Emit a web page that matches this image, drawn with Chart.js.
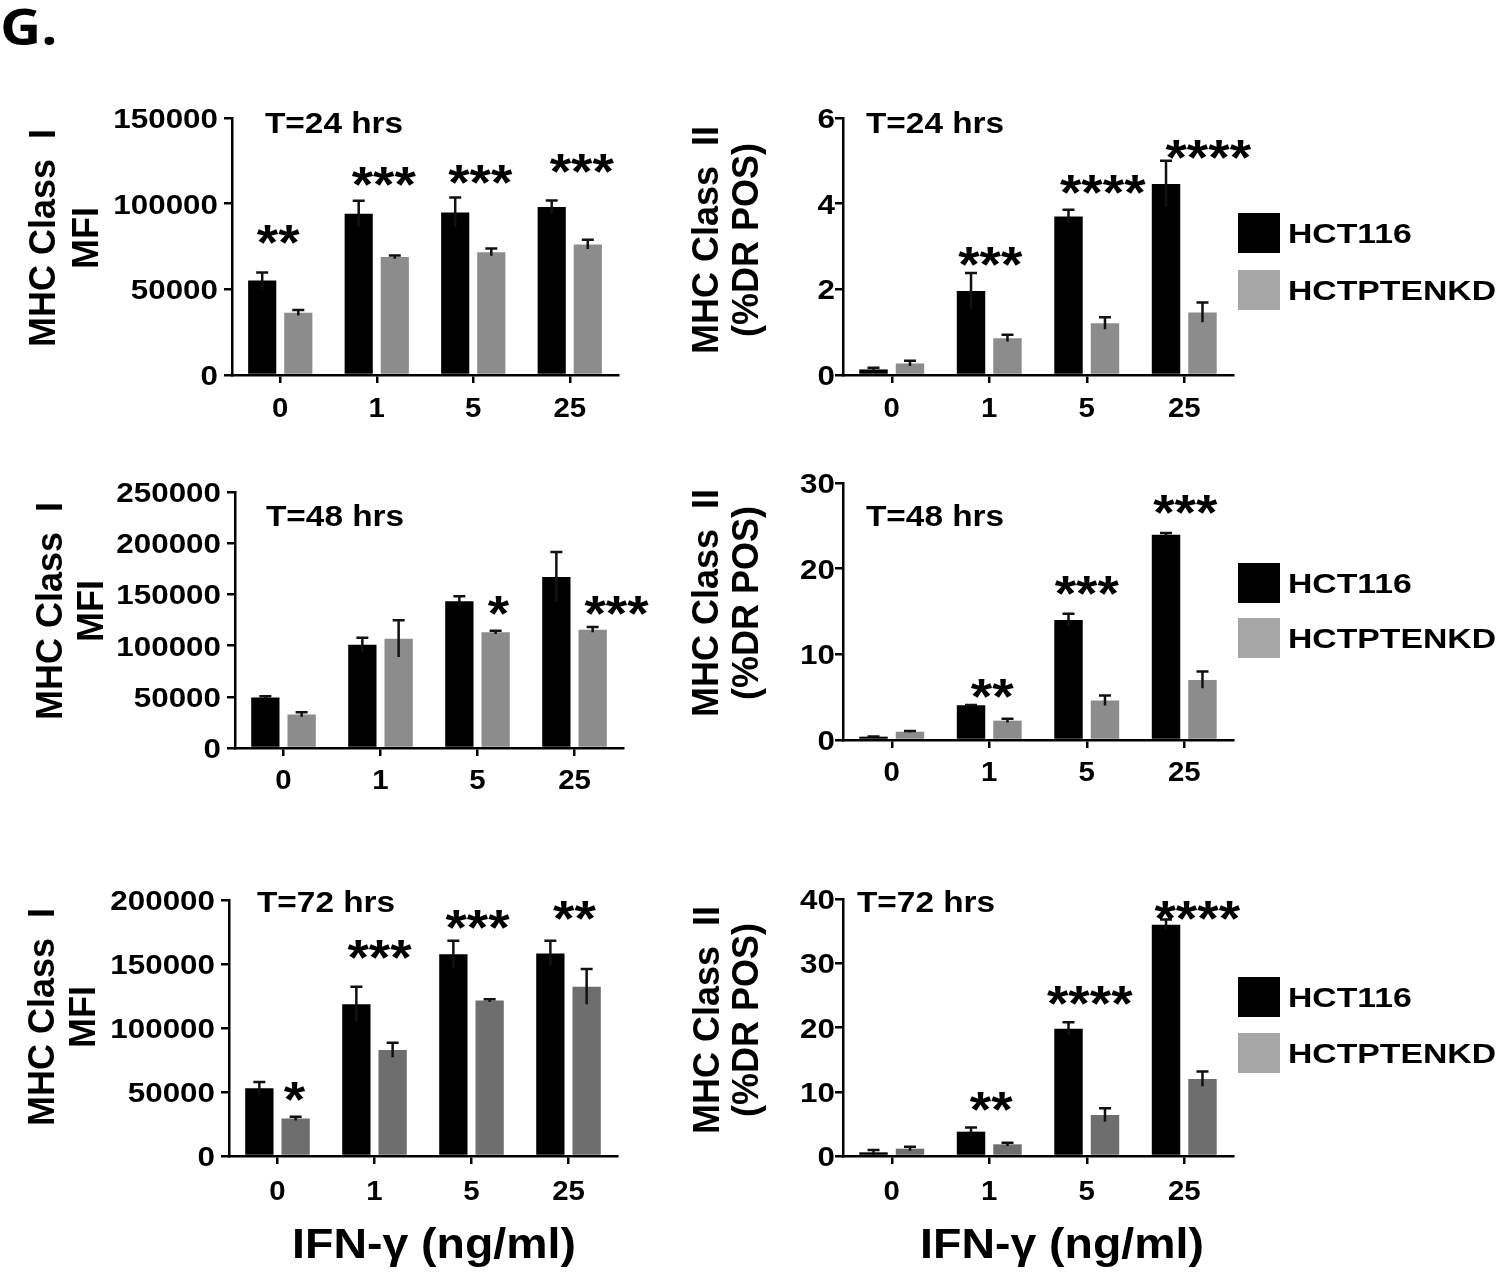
<!DOCTYPE html>
<html>
<head>
<meta charset="utf-8">
<title>MHC Class I / II vs IFN-γ</title>
<script src="https://cdn.jsdelivr.net/npm/chart.js"></script>
<style>
  body { margin: 0; background: #fff; }
  #wrap { position: relative; width: 1500px; height: 1272px; overflow: hidden; }
  canvas { position: absolute; }
  #tag { position: absolute; left: 0; top: 1px; font: bold 50px "Open Sans", sans-serif; line-height: 50px;
         transform: scaleX(1.14); transform-origin: left top; }
</style>
</head>
<body>
<div id="wrap">
  <div id="tag">G.</div>
  <canvas id="c1"></canvas>
  <canvas id="c2"></canvas>
  <canvas id="c3"></canvas>
  <canvas id="c4"></canvas>
  <canvas id="c5"></canvas>
  <canvas id="c6"></canvas>
</div>
<script>
// ---- data ----
const doses = ['0', '1', '5', '25'];
const seriesNames = ['HCT116', 'HCTPTENKD'];

// T=24 hrs
const mfi24Ticks = [0, 50000, 100000, 150000];
const mfi24Hct = [55100, 94100, 94900, 98000];
const mfi24HctSem = [4700, 7600, 8700, 3900];
const mfi24Kd = [36400, 68800, 71700, 76200];
const mfi24KdSem = [1600, 900, 2100, 2700];
const mfi24Stars = ['**', '***', '***', '***'];
const mfi24StarAt = [83000, 117000, 118000, 124500];

const dr24Ticks = [0, 2, 4, 6];
const dr24Hct = [0.13, 1.96, 3.70, 4.46];
const dr24HctSem = [0.04, 0.42, 0.16, 0.54];
const dr24Kd = [0.27, 0.86, 1.21, 1.46];
const dr24KdSem = [0.06, 0.08, 0.14, 0.23];
const dr24Stars = ['', '***', '****', '****'];
const dr24StarAt = [null, 2.81, 4.50, 5.32];

// T=48 hrs
const mfi48Ticks = [0, 50000, 100000, 150000, 200000, 250000];
const mfi48Hct = [49200, 100900, 143200, 167000];
const mfi48HctSem = [1300, 6800, 4900, 24400];
const mfi48Kd = [32600, 106800, 113000, 115600];
const mfi48KdSem = [2200, 17900, 1600, 2600];
const mfi48Stars = ['', '', '*', '***'];
const mfi48StarAt = [null, null, 141000, 141000];

const dr48Ticks = [0, 10, 20, 30];
const dr48Hct = [0.39, 4.05, 14.02, 23.96];
const dr48HctSem = [0.03, 0.05, 0.71, 0.19];
const dr48Kd = [0.97, 2.26, 4.60, 7.01];
const dr48KdSem = [0.08, 0.23, 0.58, 0.98];
const dr48Stars = ['', '**', '***', '***'];
const dr48StarAt = [null, 6.3, 18.3, 27.7];

// T=72 hrs
const mfi72Ticks = [0, 50000, 100000, 150000, 200000];
const mfi72Hct = [52900, 118500, 157600, 158300];
const mfi72HctSem = [4900, 13800, 10600, 9900];
const mfi72Kd = [29200, 82800, 121400, 132300];
const mfi72KdSem = [1500, 5700, 1000, 13800];
const mfi72Stars = ['*', '***', '***', '**'];
const mfi72StarAt = [51600, 163000, 186000, 193000];

const dr72Ticks = [0, 10, 20, 30, 40];
const dr72Hct = [0.57, 3.79, 19.8, 36.0];
const dr72HctSem = [0.37, 0.63, 1.0, 0.8];
const dr72Kd = [1.14, 1.82, 6.39, 12.0];
const dr72KdSem = [0.31, 0.26, 1.04, 1.14];
const dr72Stars = ['', '**', '****', '****'];
const dr72StarAt = [null, 8.8, 25.3, 38.5];

// ---- drawing ----
const FONT = '"Liberation Sans", Arial, sans-serif';
const AX = 10; // room kept for the tick marks of each axis

function txt(ctx, s, x, y, size, sx, align, rot) {
  ctx.save();
  ctx.font = 'bold ' + size + 'px ' + FONT;
  ctx.fillStyle = '#000';
  ctx.textBaseline = 'alphabetic';
  ctx.textAlign = align || 'left';
  ctx.translate(x, y);
  if (rot) ctx.rotate(-Math.PI / 2);
  ctx.scale(sx || 1, 1);
  ctx.fillText(s, 0, 0);
  ctx.restore();
}

function makePanel(p) {
  const [cx, cy, cw, ch] = p.canvas;
  const [al, at, ar, ab] = p.area;
  const el = document.getElementById(p.id);
  el.width = cw;
  el.height = ch;
  el.style.left = cx + 'px';
  el.style.top = cy + 'px';

  const sets = [
    { name: seriesNames[0], values: p.hct, sem: p.hctSem, color: '#000000' },
    { name: seriesNames[1], values: p.kd, sem: p.kdSem, color: p.gray }
  ];

  const deco = {
    id: 'deco_' + p.id,
    afterDatasetsDraw(chart) {
      const ctx = chart.ctx, ys = chart.scales.y;
      ctx.save();
      ctx.strokeStyle = '#111';
      ctx.lineWidth = 2.5;
      sets.forEach((s, i) => {
        chart.getDatasetMeta(i).data.forEach((bar, j) => {
          const v = s.values[j], e = s.sem[j];
          const yTop = ys.getPixelForValue(v + e);
          const yLow = ys.getPixelForValue(Math.max(0, v - e));
          ctx.beginPath();
          ctx.moveTo(bar.x, yLow);
          ctx.lineTo(bar.x, yTop);
          ctx.moveTo(bar.x - 6, yTop);
          ctx.lineTo(bar.x + 6, yTop);
          ctx.stroke();
        });
      });
      ctx.restore();
    },
    afterDraw(chart) {
      const ctx = chart.ctx, xs = chart.scales.x, ys = chart.scales.y;
      // y tick labels
      ys.ticks.forEach(t => {
        txt(ctx, String(t.value), al - p.tickGap - cx, ys.getPixelForValue(t.value) + 10, 28, 1.12, 'right');
      });
      // x tick labels and stars
      doses.forEach((d, j) => {
        const x = xs.getPixelForValue(j);
        txt(ctx, d, x, ab - cy + p.xLab, 28, 1.05, 'center');
        if (p.stars[j]) {
          txt(ctx, p.stars[j], x + p.starDx[j], ys.getPixelForValue(p.starAt[j]) + 27.5, 50, 1.1, 'center');
        }
      });
      // time label
      txt(ctx, p.time[0], p.time[1] - cx, p.time[2] - cy + 10.4, 29, 1.15, 'left');
      // y axis title, two rotated lines
      p.title.forEach((line, k) => {
        txt(ctx, line, p.titleX[k] - cx + 12.9, p.titleY - cy, 36, 1, 'center', true);
      });
      // legend
      if (p.legendY) {
        sets.forEach((s, i) => {
          const top = p.legendY[i] - cy;
          ctx.fillStyle = i === 0 ? '#000000' : '#a6a6a6';
          ctx.fillRect(1238 - cx, top, 42, 40);
          txt(ctx, s.name, 1288 - cx, top + 20 + 9.7, 27, 1.25, 'left');
        });
      }
      // shared x title under the bottom row
      if (p.bottomX) {
        txt(ctx, 'IFN-γ (ng/ml)', p.bottomX - cx, 1258 - cy, 43, 1.08, 'center');
      }
    }
  };

  const axisLine = { display: true, color: '#000', width: 2.5 };
  const marks = { display: true, drawOnChartArea: false, drawTicks: true, tickLength: 8,
                  tickWidth: 2.5, lineWidth: 2.5, tickColor: '#000', color: '#000' };

  new Chart(el, {
    type: 'bar',
    data: {
      labels: doses,
      datasets: sets.map(s => ({
        label: s.name,
        data: s.values,
        backgroundColor: s.color,
        borderWidth: 0,
        categoryPercentage: 0.748,
        barPercentage: 0.78
      }))
    },
    options: {
      responsive: false,
      animation: false,
      devicePixelRatio: 1,
      layout: { padding: { left: al - cx - AX, top: at - cy, right: cx + cw - ar, bottom: cy + ch - ab - AX } },
      plugins: { legend: { display: false }, tooltip: { enabled: false } },
      scales: {
        x: {
          offset: true,
          ticks: { display: false },
          grid: Object.assign({}, marks, { offset: false }),
          border: axisLine,
          afterFit: s => { s.height = AX; }
        },
        y: {
          min: p.ticks[0],
          max: p.ticks[p.ticks.length - 1],
          ticks: { display: false },
          afterBuildTicks: s => { s.ticks = p.ticks.map(v => ({ value: v })); },
          grid: marks,
          border: axisLine,
          afterFit: s => { s.width = AX; }
        }
      }
    },
    plugins: [deco]
  });
}

const leftTitle = ['MHC Class  I', 'MFI'];
const rightTitle = ['MHC Class  II', '(%DR POS)'];

makePanel({ id: 'c1', canvas: [0, 50, 660, 400], area: [232, 118, 618, 375],
  ticks: mfi24Ticks, hct: mfi24Hct, hctSem: mfi24HctSem, kd: mfi24Kd, kdSem: mfi24KdSem,
  stars: mfi24Stars, starAt: mfi24StarAt, starDx: [-2, 7, 7, 12], gray: '#8c8c8c',
  tickGap: 14, xLab: 42, time: ['T=24 hrs', 265, 123],
  title: leftTitle, titleX: [42, 85], titleY: 238 });

makePanel({ id: 'c2', canvas: [660, 50, 840, 400], area: [843, 118, 1233, 375],
  ticks: dr24Ticks, hct: dr24Hct, hctSem: dr24HctSem, kd: dr24Kd, kdSem: dr24KdSem,
  stars: dr24Stars, starAt: dr24StarAt, starDx: [0, 1, 16, 24], gray: '#8c8c8c',
  tickGap: 8, xLab: 42, time: ['T=24 hrs', 866, 123],
  title: rightTitle, titleX: [705, 745], titleY: 240, legendY: [213, 270] });

makePanel({ id: 'c3', canvas: [0, 450, 660, 380], area: [235, 492, 623, 748],
  ticks: mfi48Ticks, hct: mfi48Hct, hctSem: mfi48HctSem, kd: mfi48Kd, kdSem: mfi48KdSem,
  stars: mfi48Stars, starAt: mfi48StarAt, starDx: [0, 0, 21, 42], gray: '#8c8c8c',
  tickGap: 14, xLab: 41, time: ['T=48 hrs', 266, 516],
  title: leftTitle, titleX: [49, 90], titleY: 611 });

makePanel({ id: 'c4', canvas: [660, 450, 840, 380], area: [843, 483, 1233, 740],
  ticks: dr48Ticks, hct: dr48Hct, hctSem: dr48HctSem, kd: dr48Kd, kdSem: dr48KdSem,
  stars: dr48Stars, starAt: dr48StarAt, starDx: [0, 3, 0, 1], gray: '#8c8c8c',
  tickGap: 8, xLab: 41, time: ['T=48 hrs', 866, 516],
  title: rightTitle, titleX: [705, 745], titleY: 603, legendY: [563, 618] });

makePanel({ id: 'c5', canvas: [0, 830, 660, 442], area: [229, 900, 617, 1156],
  ticks: mfi72Ticks, hct: mfi72Hct, hctSem: mfi72HctSem, kd: mfi72Kd, kdSem: mfi72KdSem,
  stars: mfi72Stars, starAt: mfi72StarAt, starDx: [17, 5, 6, 6], gray: '#6e6e6e',
  tickGap: 14, xLab: 44, time: ['T=72 hrs', 257, 902],
  title: leftTitle, titleX: [41, 82], titleY: 1017, bottomX: 434 });

makePanel({ id: 'c6', canvas: [660, 830, 840, 442], area: [843, 899, 1233, 1156],
  ticks: dr72Ticks, hct: dr72Hct, hctSem: dr72HctSem, kd: dr72Kd, kdSem: dr72KdSem,
  stars: dr72Stars, starAt: dr72StarAt, starDx: [0, 2, 3, 13], gray: '#6e6e6e',
  tickGap: 8, xLab: 44, time: ['T=72 hrs', 857, 902],
  title: rightTitle, titleX: [706, 745], titleY: 1020, legendY: [977, 1033], bottomX: 1062 });
</script>
</body>
</html>
